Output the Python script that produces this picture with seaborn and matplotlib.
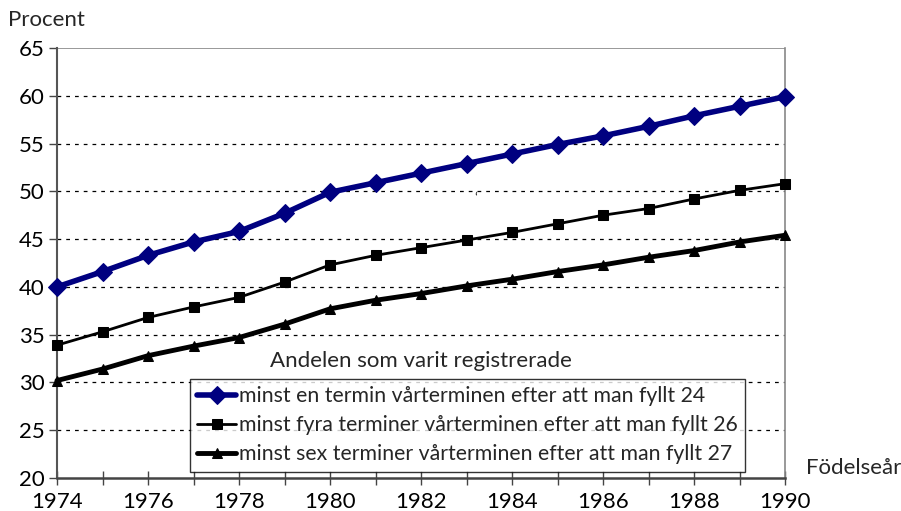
import matplotlib
matplotlib.use("Agg")
import matplotlib.pyplot as plt
import seaborn as sns
import numpy as np

years = list(range(1974, 1991))
minst_en_24 = [40.0, 41.6, 43.3, 44.7, 45.8, 47.7, 49.9, 50.9, 51.9, 52.9,
               53.9, 54.9, 55.8, 56.8, 57.9, 58.9, 59.9]
minst_fyra_26 = [33.9, 35.3, 36.8, 37.9, 38.9, 40.5, 42.3, 43.3, 44.1, 44.9,
                 45.7, 46.6, 47.5, 48.2, 49.2, 50.1, 50.8]
minst_sex_27 = [30.2, 31.4, 32.8, 33.8, 34.7, 36.1, 37.7, 38.6, 39.3, 40.1,
                40.8, 41.6, 42.3, 43.1, 43.8, 44.7, 45.4]
series_labels = [
    "minst en termin vårterminen efter att man fyllt 24",
    "minst fyra terminer vårterminen efter att man fyllt 26",
    "minst sex terminer vårterminen efter att man fyllt 27",
]
y_ticks = [20, 25, 30, 35, 40, 45, 50, 55, 60, 65]
x_tick_labels = [1974, 1976, 1978, 1980, 1982, 1984, 1986, 1988, 1990]

sns.set_theme(style="white")
plt.rcParams["font.family"] = ["Lato", "DejaVu Sans"]
FS = 16

fig = plt.figure(figsize=(9.01, 5.11), dpi=100)
ax = fig.add_axes([57 / 901, 33 / 511, 728 / 901, 430 / 511])

styles = [
    dict(color="#000080", lw=4.0, marker="D", ms=9),
    dict(color="black", lw=2.0, marker="s", ms=6.5),
    dict(color="black", lw=3.5, marker="^", ms=7.5),
]
for vals, lab, st in zip([minst_en_24, minst_fyra_26, minst_sex_27], series_labels, styles):
    sns.lineplot(x=years, y=vals, ax=ax, label=lab, color=st["color"],
                 linewidth=st["lw"], marker=st["marker"], markersize=st["ms"],
                 markeredgecolor=st["color"], markerfacecolor=st["color"],
                 clip_on=False, zorder=3)

ax.set_xlim(1974, 1990)
ax.set_ylim(20, 65)
ax.set_yticks(y_ticks)
ax.set_xticks(years)
ax.set_xticklabels([str(y) if y in x_tick_labels else "" for y in years])
for yv in y_ticks[1:-1]:
    ax.axhline(yv, color="black", lw=0.9, ls=(0, (3, 4)), zorder=1)
ax.axhline(65, color="#888888", lw=1.2, zorder=1)

ax.spines["top"].set_visible(False)
ax.spines["right"].set_color("#888888")
ax.spines["right"].set_linewidth(1.2)
ax.spines["left"].set_color("#555555")
ax.spines["left"].set_linewidth(1.5)
ax.spines["bottom"].set_color("#444444")
ax.spines["bottom"].set_linewidth(1.8)

ax.tick_params(axis="x", direction="inout", length=10, width=1, colors="#444444",
               labelcolor="black", labelsize=FS, pad=5, bottom=True)
ax.tick_params(axis="y", direction="out", length=6, width=1, colors="#444444",
               labelcolor="black", labelsize=FS, pad=3, left=True)
ax.set_xlabel("")
ax.set_ylabel("")

fig.text(8 / 901, 1 - 20 / 511, "Procent", fontsize=FS, va="center", ha="left")
fig.text(806 / 901, 1 - 468 / 511, "Födelseår", fontsize=FS, va="center", ha="left")
ax.text(1983.2, 49.4, "‘", fontsize=10, ha="center", va="center")

leg = ax.legend(loc="upper left", bbox_to_anchor=((190 - 57) / 728, (478 - 379) / 430),
                frameon=True, fancybox=False, edgecolor="black", fontsize=15.3,
                handlelength=1.8, handletextpad=0.15, borderpad=0.35, labelspacing=0.42,
                borderaxespad=0)
leg.get_frame().set_linewidth(1.0)
fig.text(270 / 901, 1 - 361 / 511, "Andelen som varit registrerade", fontsize=FS,
         va="center", ha="left")

fig.savefig("out.png", dpi=100)
